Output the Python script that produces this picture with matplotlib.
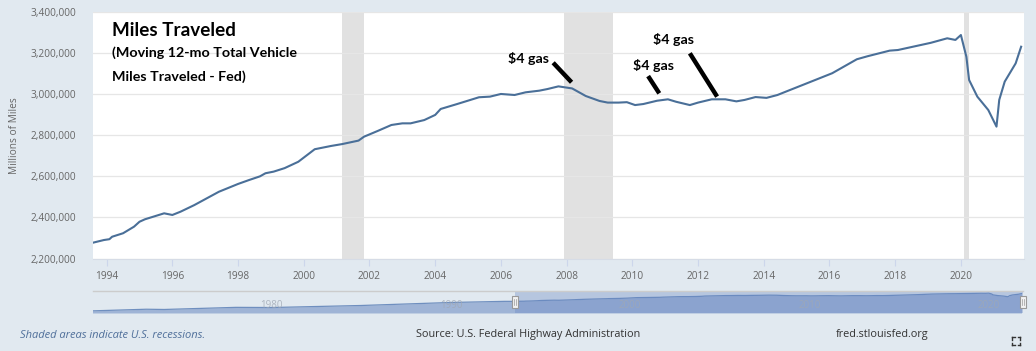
import matplotlib
matplotlib.use("Agg")
import matplotlib.pyplot as plt
from matplotlib.patches import Rectangle
from matplotlib.lines import Line2D
import numpy as np

# ---------------- data ----------------
dates = ["1993-08", "1993-12", "1994-02", "1994-03", "1994-07", "1994-11", "1995-01",
         "1995-03", "1995-10", "1996-01", "1996-04", "1996-09", "1997-06", "1998-01",
         "1998-05", "1998-09", "1998-11", "1999-02", "1999-06", "1999-11", "2000-05",
         "2000-11", "2001-03", "2001-09", "2001-11", "2002-04", "2002-09", "2003-01",
         "2003-04", "2003-09", "2004-01", "2004-03", "2004-09", "2005-05", "2005-09",
         "2006-01", "2006-06", "2006-10", "2007-03", "2007-06", "2007-10", "2008-01",
         "2008-03", "2008-08", "2009-01", "2009-04", "2009-08", "2009-11", "2010-02",
         "2010-05", "2010-10", "2011-02", "2011-05", "2011-10", "2012-01", "2012-06",
         "2012-11", "2013-03", "2013-06", "2013-10", "2014-02", "2014-06", "2014-09",
         "2015-04", "2016-02", "2016-11", "2017-03", "2017-11", "2018-02", "2019-02",
         "2019-08", "2019-11", "2020-01", "2020-03", "2020-04", "2020-07", "2020-11",
         "2021-02", "2021-03", "2021-05", "2021-09", "2021-11"]
miles = [2277, 2290, 2294, 2306, 2323, 2355, 2379,
         2391, 2420, 2412, 2428, 2460, 2525, 2563,
         2582, 2600, 2615, 2623, 2640, 2671, 2732,
         2748, 2757, 2774, 2793, 2821, 2850, 2858,
         2858, 2874, 2899, 2928, 2952, 2985, 2988,
         3001, 2996, 3009, 3017, 3025, 3038, 3032,
         3028, 2991, 2967, 2959, 2959, 2961, 2947,
         2952, 2968, 2975, 2963, 2947, 2959, 2975,
         2975, 2965, 2972, 2986, 2982, 2996, 3012,
         3049, 3102, 3170, 3185, 3212, 3215, 3250,
         3272, 3264, 3288, 3182, 3069, 2988, 2923,
         2842, 2972, 3061, 3150, 3231]  # thousands of millions

# earlier history shown only in the navigator strip
nav_years = [1970, 1973, 1974, 1978, 1980, 1985, 1990, 1993]
nav_miles = [1110, 1310, 1280, 1540, 1520, 1770, 2140, 2277]

recessions = [("2001-03", "2001-11"), ("2007-12", "2009-06"), ("2020-02", "2020-04")]

x_ticks = list(range(1994, 2021, 2))
y_ticks = [2200000, 2400000, 2600000, 2800000, 3000000, 3200000, 3400000]
nav_labels = [1980, 1990, 2000, 2010, 2020]

gas_labels = [("$4 gas", 2006.85, 3176000), ("$4 gas", 2010.63, 3142000), ("$4 gas", 2011.24, 3264000)]
gas_lines = [((2007.59, 3153000), (2008.15, 3058000)),
             ((2010.48, 3088000), (2010.82, 3004000)),
             ((2011.75, 3199000), (2012.58, 2988000))]


def ym(s):
    yy, mm = s.split("-")
    return int(yy) + (int(mm) - 1) / 12.0


x = np.array([ym(d) for d in dates])
y = np.array(miles) * 1000.0

BG = "#e1e9f0"
LINE = "#4a6f98"
TICKC = "#666666"

fig = plt.figure(figsize=(10.36, 3.51), dpi=100, facecolor=BG)

# ---------------- main axes ----------------
ax = fig.add_axes([0.0893, 0.2635, 0.8991, 0.7023])
ax.set_facecolor("white")
for a, b in recessions:
    ax.axvspan(ym(a), ym(b), color="#e1e1e1", lw=0, zorder=1)
ax.plot(x, y, color=LINE, lw=1.5, zorder=3, solid_joinstyle="round")
ax.set_xlim(1993.57, 2021.92)
ax.set_ylim(2200000, 3400000)
ax.set_yticks(y_ticks)
ax.set_yticklabels([f"{v:,}" for v in y_ticks])
ax.set_xticks(x_ticks)
ax.set_xticklabels([str(t) for t in x_ticks])
ax.grid(axis="y", color="#e6e6e6", lw=0.9, zorder=0)
for s in ["top", "right", "left"]:
    ax.spines[s].set_visible(False)
ax.spines["bottom"].set_color("#d6dce6")
ax.tick_params(axis="y", length=0, pad=12, labelsize=7.3, labelcolor=TICKC)
ax.tick_params(axis="x", length=5, color="#ccd6eb", pad=4, labelsize=7.3, labelcolor=TICKC)
for lab in ax.get_xticklabels() + ax.get_yticklabels():
    lab.set_family("Open Sans")
ax.set_ylabel("Millions of Miles", fontsize=7.3, color=TICKC, family="Open Sans")
ax.yaxis.set_label_coords(-0.078, 0.5)

# title block
ax.text(0.021, 0.925, "Miles Traveled", transform=ax.transAxes, family="Lato",
        weight="bold", fontsize=13.6, color="black", va="center", ha="left", zorder=5)
ax.text(0.021, 0.835, "(Moving 12-mo Total Vehicle", transform=ax.transAxes, family="Lato",
        weight="bold", fontsize=10.3, color="black", va="center", ha="left", zorder=5)
ax.text(0.021, 0.737, "Miles Traveled - Fed)", transform=ax.transAxes, family="Lato",
        weight="bold", fontsize=10.3, color="black", va="center", ha="left", zorder=5)

for t, gx, gy in gas_labels:
    ax.text(gx, gy, t, family="Lato", weight="bold", fontsize=10.3, color="black",
            ha="center", va="center", zorder=5)
for (x0, y0), (x1, y1) in gas_lines:
    ax.plot([x0, x1], [y0, y1], color="black", lw=3.2, solid_capstyle="butt", zorder=5)

# ---------------- navigator ----------------
nav = fig.add_axes([0.0893, 0.1083, 0.8982, 0.0627])
nav.set_facecolor(BG)
nx = np.concatenate([np.array(nav_years, dtype=float), x])
ny = np.concatenate([np.array(nav_miles) * 1000.0, y])
nav.set_xlim(1970, 2021.92)
nav.set_ylim(850000, 3550000)
nav.fill_between(nx, ny, 850000, color="#9fb4d6", lw=0, zorder=1)
nav.plot(nx, ny, color="#6f8fbf", lw=0.9, zorder=2)
# selection mask
nav.axvspan(1993.57, 2021.92, color="#6685c2", alpha=0.35, lw=0, zorder=3)
for t in nav_labels:
    nav.text(t, 0.32, str(t), fontsize=7, color="#a0a8b4", ha="center", va="center",
             family="Open Sans", alpha=0.8, transform=nav.get_xaxis_transform(), zorder=4)
nav.axhline(3550000, color="#cccccc", lw=1.0, zorder=4, clip_on=False)
for hx in (1993.57, 2021.92):
    nav.add_patch(Rectangle((hx - 0.17, 0.22), 0.34, 0.56, transform=nav.get_xaxis_transform(),
                            facecolor="#f2f2f2", edgecolor="#999999", lw=0.8, zorder=6,
                            clip_on=False))
    nav.plot([hx - 0.05, hx - 0.05], [0.35, 0.65], transform=nav.get_xaxis_transform(),
             color="#999999", lw=0.5, zorder=7, clip_on=False)
    nav.plot([hx + 0.05, hx + 0.05], [0.35, 0.65], transform=nav.get_xaxis_transform(),
             color="#999999", lw=0.5, zorder=7, clip_on=False)
nav.set_xticks([])
nav.set_yticks([])
for s in nav.spines.values():
    s.set_visible(False)

# ---------------- footer ----------------
fig.text(20 / 1036, 1 - 335 / 351, "Shaded areas indicate U.S. recessions.", fontsize=8.0,
         style="italic", color="#4f6f9a", family="Open Sans", va="center", ha="left")
fig.text(416 / 1036, 1 - 335 / 351, "Source: U.S. Federal Highway Administration", fontsize=7.8,
         color="#333333", family="Open Sans", va="center", ha="left")
fig.text(836 / 1036, 1 - 335 / 351, "fred.stlouisfed.org", fontsize=7.8,
         color="#333333", family="Open Sans", va="center", ha="left")

# full-screen icon
cx, cy, d, k = 1016, 341, 4, 2.5
for sx in (-1, 1):
    for sy in (-1, 1):
        px, py = cx + sx * d, cy + sy * d
        fig.add_artist(Line2D([px / 1036, (px - sx * k) / 1036], [1 - py / 351, 1 - py / 351],
                              color="#333333", lw=1.0))
        fig.add_artist(Line2D([px / 1036, px / 1036], [1 - py / 351, 1 - (py - sy * k) / 351],
                              color="#333333", lw=1.0))

fig.savefig("out.png", dpi=100, facecolor=BG)
